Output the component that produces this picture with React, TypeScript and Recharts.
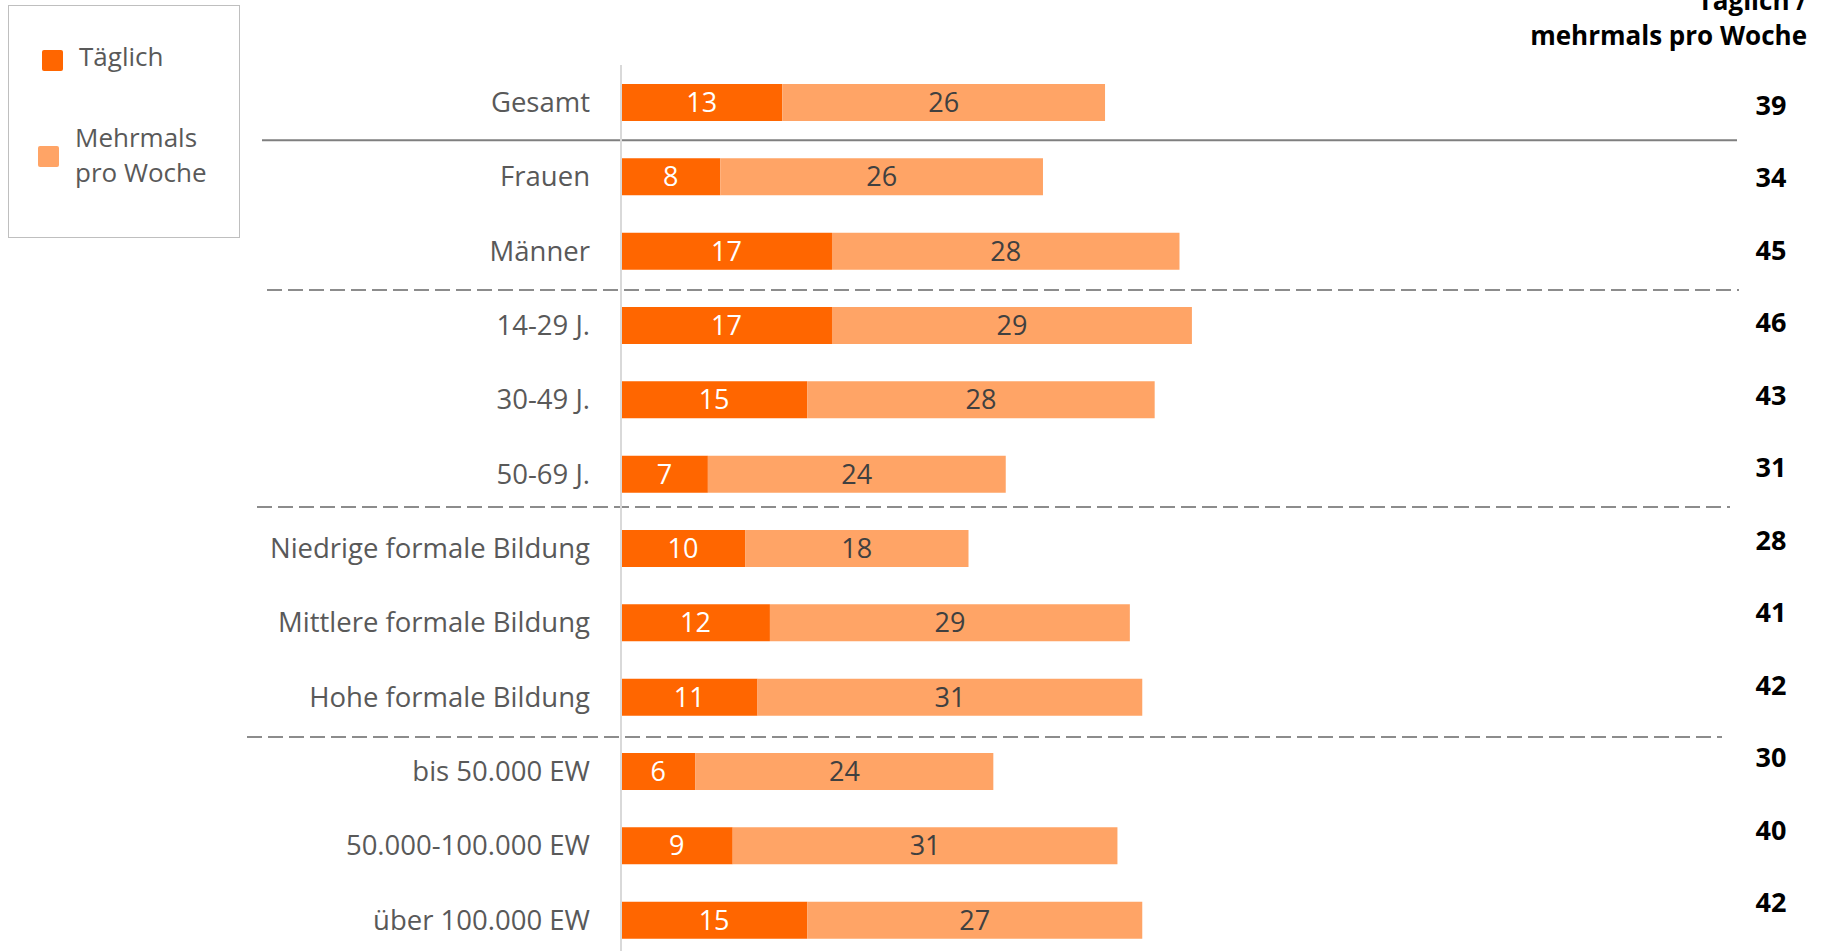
import {
  BarChart,
  Bar,
  XAxis,
  YAxis,
  Legend,
  LabelList,
  ReferenceLine,
} from "recharts";

const categories = [
  "Gesamt",
  "Frauen",
  "Männer",
  "14-29 J.",
  "30-49 J.",
  "50-69 J.",
  "Niedrige formale Bildung",
  "Mittlere formale Bildung",
  "Hohe formale Bildung",
  "bis 50.000 EW",
  "50.000-100.000 EW",
  "über 100.000 EW",
];
const taeglich = [13, 8, 17, 17, 15, 7, 10, 12, 11, 6, 9, 15];
const mehrmals = [26, 26, 28, 29, 28, 24, 18, 29, 31, 24, 31, 27];
const totals = [39, 34, 45, 46, 43, 31, 28, 41, 42, 30, 40, 42];
const seriesNames = ["Täglich", "Mehrmals pro Woche"];

// group separators: drawn on top of the named category
const separators = [
  { before: "Frauen", dashed: false },
  { before: "14-29 J.", dashed: true },
  { before: "Niedrige formale Bildung", dashed: true },
  { before: "bis 50.000 EW", dashed: true },
];

const DARK = "#ff6600";
const LIGHT = "#ffa466";
const FONT = "'Open Sans', 'Noto Sans', sans-serif";

const data = categories.map((name, i) => ({
  name,
  taeglich: taeglich[i],
  mehrmals: mehrmals[i],
}));

// small visual tweaks per separator line (extension left/right, vertical nudge)
const sepStyle = [
  { left: 359, right: 1, dy: 1 },
  { left: 354, right: -1, dy: 2 },
  { left: 364, right: 8, dy: -4 },
  { left: 374, right: 16, dy: 3 },
];

const legendPos = [
  { sq: { left: 33, top: 44 }, tx: { left: 70, top: 33 } },
  { sq: { left: 29, top: 140 }, tx: { left: 66, top: 114 } },
];

function LegendBox({ payload }: any) {
  const items = [...(payload || [])].sort(
    (a: any, b: any) => seriesNames.indexOf(a.value) - seriesNames.indexOf(b.value)
  );
  return (
    <div
      style={{
        position: "relative",
        width: 232,
        height: 233,
        border: "1px solid #bfbfbf",
        boxSizing: "border-box",
        fontFamily: FONT,
      }}
    >
      {items.map((entry: any, i: number) => (
        <div key={entry.value}>
          <div
            style={{
              position: "absolute",
              ...legendPos[i].sq,
              width: 21,
              height: 21,
              borderRadius: 2,
              background: entry.color,
            }}
          />
          <div
            style={{
              position: "absolute",
              ...legendPos[i].tx,
              width: 150,
              fontSize: 26,
              lineHeight: "35px",
              color: "#595959",
            }}
          >
            {entry.value}
          </div>
        </div>
      ))}
    </div>
  );
}

export default function App() {
  return (
    <div
      style={{
        position: "absolute",
        left: 0,
        top: 0,
        width: 1829,
        height: 951,
        overflow: "hidden",
        background: "#fff",
        fontFamily: FONT,
      }}
    >
      <BarChart
        width={1829}
        height={960}
        data={data}
        layout="vertical"
        margin={{ top: 65, right: 0, bottom: 3, left: 0 }}
      >
        <XAxis type="number" domain={[0, 90]} hide />
        <YAxis
          yAxisId="left"
          type="category"
          dataKey="name"
          width={621}
          interval={0}
          tickLine={false}
          tickSize={0}
          tickMargin={31}
          axisLine={{ stroke: "#d9d9d9", strokeWidth: 2 }}
          tick={{ fill: "#595959", fontSize: 27.5 }}
        />
        <YAxis
          yAxisId="right"
          orientation="right"
          type="category"
          dataKey="name"
          width={91}
          interval={0}
          padding={{ top: 4, bottom: 18 }}
          axisLine={false}
          tickLine={false}
          tickSize={0}
          tickMargin={33}
          tickFormatter={(_v: string, i: number) => String(totals[i])}
          tick={{ fill: "#000", fontSize: 27, fontWeight: 700, textAnchor: "middle" }}
        />
        <Legend
          layout="vertical"
          align="center"
          verticalAlign="middle"
          wrapperStyle={{ left: 8, top: 5, width: 232, height: 233 }}
          content={LegendBox}
        />
        {separators.map((s, i) => (
          <ReferenceLine
            key={s.before}
            yAxisId="left"
            y={s.before}
            position="start"
            ifOverflow="visible"
            shape={(p: any) => (
              <line
                x1={Math.min(p.x1, p.x2) - sepStyle[i].left}
                x2={Math.max(p.x1, p.x2) - sepStyle[i].right}
                y1={p.y1 + sepStyle[i].dy}
                y2={p.y2 + sepStyle[i].dy}
                stroke={s.dashed ? "#8c8c8c" : "#7f7f7f"}
                strokeWidth={2}
                strokeDasharray={s.dashed ? "15 6" : undefined}
              />
            )}
          />
        ))}
        <Bar
          yAxisId="left"
          dataKey="taeglich"
          name={seriesNames[0]}
          stackId="a"
          fill={DARK}
          barSize={37}
          isAnimationActive={false}
        >
          <LabelList dataKey="taeglich" position="center" fill="#ffffff" fontSize={27} />
        </Bar>
        <Bar
          yAxisId="left"
          dataKey="mehrmals"
          name={seriesNames[1]}
          stackId="a"
          fill={LIGHT}
          barSize={37}
          isAnimationActive={false}
        >
          <LabelList dataKey="mehrmals" position="center" fill="#404040" fontSize={27} />
        </Bar>
      </BarChart>
      <div
        style={{
          position: "absolute",
          right: 22,
          top: -17,
          textAlign: "right",
          fontSize: 26,
          fontWeight: 700,
          lineHeight: "35px",
          color: "#000",
        }}
      >
        Täglich /
        <br />
        mehrmals pro Woche
      </div>
    </div>
  );
}
